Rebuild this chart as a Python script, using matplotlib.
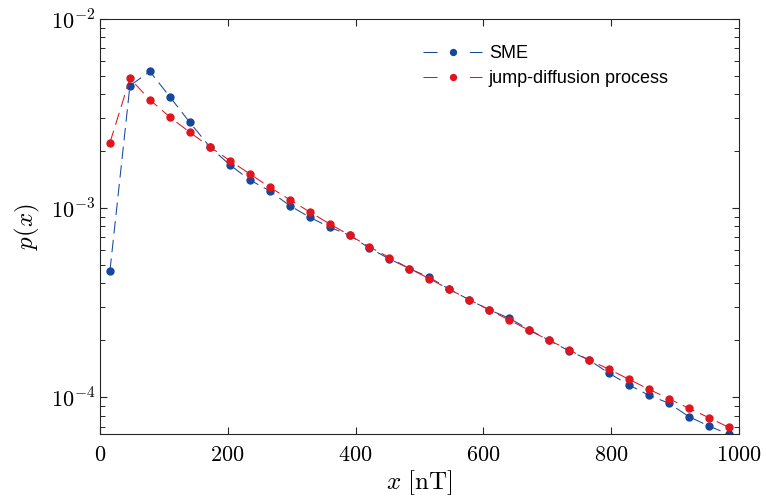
import matplotlib
matplotlib.use('Agg')
import matplotlib.pyplot as plt
from matplotlib.ticker import FuncFormatter, LogLocator, NullFormatter
import numpy as np

# bin centres (nT)
x_centres = [15.625 + 31.25 * k for k in range(32)]

# SME histogram
p_sme = [4.66e-4, 4.44e-3, 5.28e-3, 3.88e-3, 2.84e-3, 2.11e-3, 1.695e-3, 1.411e-3,
         1.234e-3, 1.032e-3, 8.96e-4, 7.93e-4, 7.20e-4, 6.14e-4, 5.39e-4, 4.79e-4,
         4.31e-4, 3.72e-4, 3.28e-4, 2.90e-4, 2.62e-4, 2.28e-4, 2.00e-4, 1.758e-4,
         1.575e-4, 1.340e-4, 1.162e-4, 1.025e-4, 9.30e-5, 7.90e-5, 7.05e-5, 6.37e-5]

# jump-diffusion model
p_jump = [2.22e-3, 4.85e-3, 3.74e-3, 3.03e-3, 2.52e-3, 2.11e-3, 1.786e-3, 1.519e-3,
          1.291e-3, 1.110e-3, 9.56e-4, 8.26e-4, 7.20e-4, 6.24e-4, 5.48e-4, 4.79e-4,
          4.24e-4, 3.72e-4, 3.28e-4, 2.90e-4, 2.56e-4, 2.26e-4, 2.00e-4, 1.779e-4,
          1.575e-4, 1.406e-4, 1.245e-4, 1.102e-4, 9.83e-5, 8.75e-5, 7.80e-5, 6.94e-5]

x_ticks = [0, 200, 400, 600, 800, 1000]

BLUE = '#16479a'
RED = '#e0151d'
LW = 0.75

plt.rcParams['mathtext.fontset'] = 'cm'

fig = plt.figure(figsize=(7.66, 5.04), dpi=100)
ax = fig.add_axes([0.1305, 0.1389, 0.834, 0.8234])

ax.plot(x_centres, p_sme, color=BLUE, lw=LW, dashes=(12, 6), marker='o', ms=5,
        label='SME')
ax.plot(x_centres, p_jump, color=RED, lw=LW, dashes=(12, 6), marker='o', ms=5,
        label='jump-diffusion process')

ax.set_yscale('log')
ax.set_xlim(0, 1000)
ax.set_ylim(10 ** -4.194, 1e-2)
ax.set_xticks(x_ticks)
ax.xaxis.set_major_formatter(FuncFormatter(lambda v, pos: r'$%d$' % v))
ax.yaxis.set_major_locator(LogLocator(base=10, numticks=10))
ax.yaxis.set_minor_locator(LogLocator(base=10, subs=np.arange(2, 10), numticks=20))
ax.yaxis.set_major_formatter(FuncFormatter(lambda v, pos: r'$10^{%d}$' % round(np.log10(v))))
ax.yaxis.set_minor_formatter(NullFormatter())

ax.tick_params(which='both', direction='in', top=True, right=True,
               labelsize=16, colors='#262626', labelcolor='black')
ax.tick_params(which='major', length=5, width=0.8)
ax.tick_params(which='minor', length=3.5, width=0.7)
ax.tick_params(axis='x', pad=8)
for s in ax.spines.values():
    s.set_color('#262626')
    s.set_linewidth(0.8)

ax.set_xlabel(r'$x\ [\mathrm{nT}]$', fontsize=18, labelpad=2)
ax.set_ylabel(r'$p(x)$', fontsize=18, labelpad=6)

leg = ax.legend(loc='upper left', bbox_to_anchor=(0.48, 0.976), frameon=False,
                prop={'family': 'Liberation Sans', 'size': 13},
                handlelength=3.3, handletextpad=0.35, labelspacing=0.45,
                markerscale=0.85)
# dash - marker - dash look of the legend keys
for ln in leg.get_lines():
    ln.set_linestyle((0, (13.5, 31)))

plt.savefig('out.png', dpi=100)
